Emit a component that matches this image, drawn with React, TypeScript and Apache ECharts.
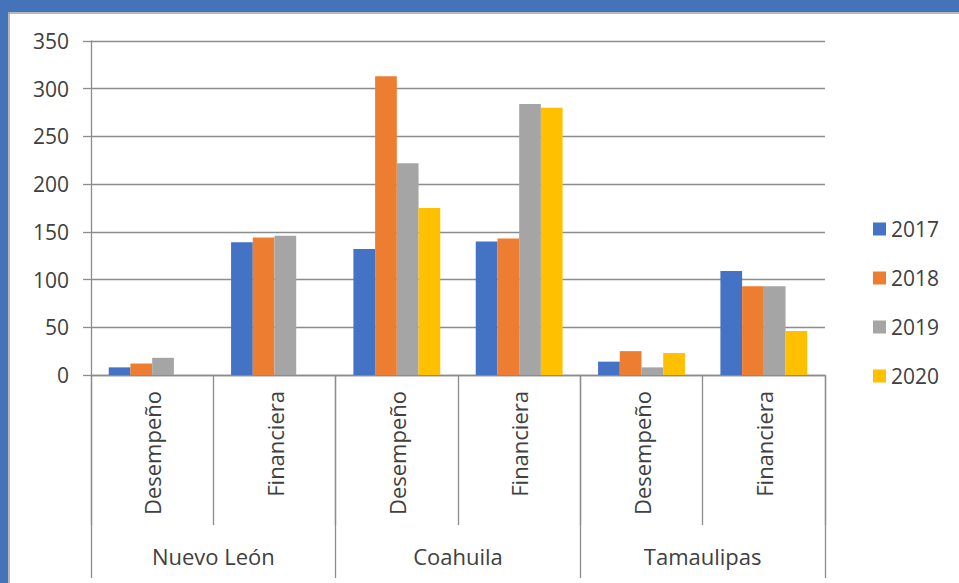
import React, { useEffect, useRef } from "react";
import * as echarts from "echarts";

// Sub-categories (inner axis) and states (outer axis)
const subCategories = ["Desempeño", "Financiera", "Desempeño", "Financiera", "Desempeño", "Financiera"];
const states = ["Nuevo León", "Coahuila", "Tamaulipas"];
const years = ["2017", "2018", "2019", "2020"];

// Values per year, in sub-category order
const values2017 = [8, 139, 132, 140, 14, 109];
const values2018 = [12, 144, 313, 143, 25, 93];
const values2019 = [18, 146, 222, 284, 8, 93];
const values2020 = [null, null, 175, 280, 23, 46];

const yTicks = [0, 50, 100, 150, 200, 250, 300, 350];

const colors = ["#4472C4", "#ED7D31", "#A5A5A5", "#FFC000"];
const FONT = "'Open Sans', sans-serif";
const TEXT = "#404040";
const LINE = "#8c8c8c";

export default function App() {
  const ref = useRef<HTMLDivElement>(null);

  useEffect(() => {
    if (!ref.current) return;
    const chart = echarts.init(ref.current, null, { renderer: "svg" });
    const seriesValues = [values2017, values2018, values2019, values2020];

    chart.setOption({
      animation: false,
      backgroundColor: "#ffffff",
      textStyle: { fontFamily: FONT },
      graphic: [
        { type: "rect", left: 0, top: 0, shape: { width: 959, height: 12 }, style: { fill: "#4473B9" } },
        { type: "rect", left: 0, top: 0, shape: { width: 8, height: 583 }, style: { fill: "#4473B9" } },
        { type: "line", shape: { x1: 8, y1: 13, x2: 959, y2: 13 }, style: { stroke: "#a0a0a0", lineWidth: 1.5 } },
        { type: "line", shape: { x1: 9, y1: 12, x2: 9, y2: 583 }, style: { stroke: "#a0a0a0", lineWidth: 1.5 } },
      ],
      legend: {
        orient: "vertical",
        left: 868,
        top: 213,
        itemWidth: 13,
        itemHeight: 13,
        itemGap: 27,
        icon: "rect",
        textStyle: { fontFamily: FONT, fontSize: 21, color: TEXT, lineHeight: 22 },
        data: years,
      },
      grid: { left: 91, right: 134, top: 41, bottom: 208, containLabel: false },
      xAxis: [
        {
          type: "category",
          data: subCategories,
          position: "bottom",
          axisLine: { lineStyle: { color: LINE, width: 1.3 } },
          axisTick: { show: true, interval: 0, length: 150, lineStyle: { color: LINE, width: 1.3 } },
          axisLabel: {
            interval: 0,
            rotate: 90,
            margin: 16,
            fontFamily: FONT,
            fontSize: 22,
            color: TEXT,
          },
        },
        {
          type: "category",
          data: states,
          position: "bottom",
          axisLine: { show: false },
          axisTick: { show: true, interval: 0, length: 203, lineStyle: { color: LINE, width: 1.3 } },
          axisLabel: {
            interval: 0,
            margin: 170,
            fontFamily: FONT,
            fontSize: 22,
            color: TEXT,
          },
        },
      ],
      yAxis: {
        type: "value",
        min: yTicks[0],
        max: yTicks[yTicks.length - 1],
        interval: 50,
        axisLine: { show: true, lineStyle: { color: LINE, width: 1.3 } },
        axisTick: { show: true, length: 8, lineStyle: { color: LINE, width: 1.3 } },
        splitLine: { lineStyle: { color: LINE, width: 1.3 } },
        axisLabel: { margin: 22, fontFamily: FONT, fontSize: 21, color: TEXT },
      },
      series: years.map((y, i) => ({
        name: y,
        type: "bar",
        xAxisIndex: 0,
        data: seriesValues[i],
        itemStyle: { color: colors[i] },
        barGap: "0%",
        barCategoryGap: "29%",
      })),
      color: colors,
    });

    return () => chart.dispose();
  }, []);

  return (
    <div
      ref={ref}
      style={{ position: "absolute", left: 0, top: 0, width: 959, height: 583 }}
    />
  );
}
